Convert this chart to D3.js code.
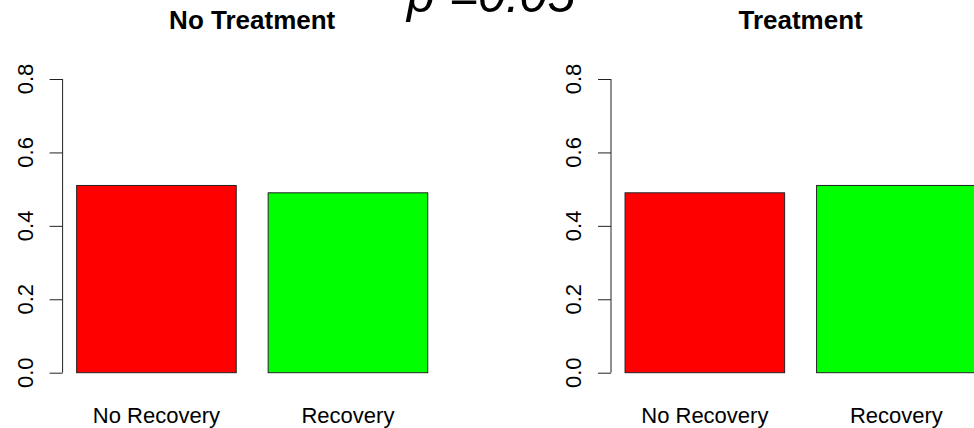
<!DOCTYPE html>
<html>
<head>
<meta charset="utf-8">
<script src="https://cdn.jsdelivr.net/npm/d3@7"></script>
<style>
  body { margin: 0; background: #fff; }
  text { font-family: "Liberation Sans", Arial, sans-serif; fill: #000; }
</style>
</head>
<body>
<svg id="chart"></svg>
<script>
// data
const categories = ["No Recovery", "Recovery"];
const panelTitles = ["No Treatment", "Treatment"];
const noTreatment = [0.51, 0.49];
const treatment = [0.49, 0.51];
const yTicks = [0, 0.2, 0.4, 0.6, 0.8];
const barColors = ["#ff0000", "#00ff00"];
const bigTitle = "p =0.05";

const panels = [
    { title: panelTitles[0], values: noTreatment },
    { title: panelTitles[1], values: treatment }
];

const config = {
    width: 974,
    height: 428,
    panelWidth: 548.4,
    margin: { left: 62.6, right: 106.6 },
    yTop: 79,
    yBottom: 372.7
};

const svg = d3.select('#chart')
    .attr('width', config.width)
    .attr('height', config.height);

// same y scale for both panels
const yScale = d3.scaleLinear()
    .domain([0, 0.8])
    .range([config.yBottom, config.yTop]);

// R barplot: width 1, space 0.2, x range padded by 4%
const xScale = d3.scaleBand()
    .domain(categories)
    .range([config.margin.left, config.panelWidth - config.margin.right])
    .paddingInner(0.2 / 1.2)
    .paddingOuter(0.088 / 1.2);

panels.forEach((p, i) => {
    const g = svg.append('g')
        .attr('transform', `translate(${i * config.panelWidth},0)`);

    g.selectAll('.bar')
        .data(p.values)
        .join('rect')
        .attr('class', 'bar')
        .attr('x', (d, j) => xScale(categories[j]))
        .attr('width', xScale.bandwidth())
        .attr('y', d => yScale(d))
        .attr('height', d => yScale(0) - yScale(d))
        .attr('fill', (d, j) => barColors[j])
        .attr('stroke', '#222')
        .attr('stroke-width', 1);

    // y axis, R style: no labels from d3, rotated labels added below
    const yAxis = d3.axisLeft(yScale)
        .tickValues(yTicks)
        .tickSize(13)
        .tickFormat('');
    const yAxisG = g.append('g')
        .attr('transform', `translate(${config.margin.left},0)`)
        .call(yAxis);
    yAxisG.select('.domain')
        .attr('d', `M0,${yScale(0)}V${yScale(0.8)}`)
        .attr('stroke', '#222');
    yAxisG.selectAll('.tick line').attr('stroke', '#222');

    g.selectAll('.ytick-label')
        .data(yTicks)
        .join('text')
        .attr('class', 'ytick-label')
        .attr('transform', d => `translate(33,${yScale(d)}) rotate(-90)`)
        .attr('text-anchor', 'middle')
        .style('font-size', '22px')
        .text(d => d3.format('.1f')(d));

    // category labels
    g.selectAll('.x-label')
        .data(categories)
        .join('text')
        .attr('class', 'x-label')
        .attr('x', d => xScale(d) + xScale.bandwidth() / 2)
        .attr('y', 423)
        .attr('text-anchor', 'middle')
        .style('font-size', '22px')
        .text(d => d);

    // panel title
    g.append('text')
        .attr('x', (config.margin.left + config.panelWidth - config.margin.right) / 2)
        .attr('y', 29)
        .attr('text-anchor', 'middle')
        .style('font-size', '26px')
        .style('font-weight', 'bold')
        .text(p.title);
});

// overall title, cut off at the top edge as in the original
svg.append('text')
    .attr('x', 407)
    .attr('y', 12)
    .style('font-size', '50px')
    .style('font-style', 'italic')
    .text(bigTitle);
</script>
</body>
</html>
